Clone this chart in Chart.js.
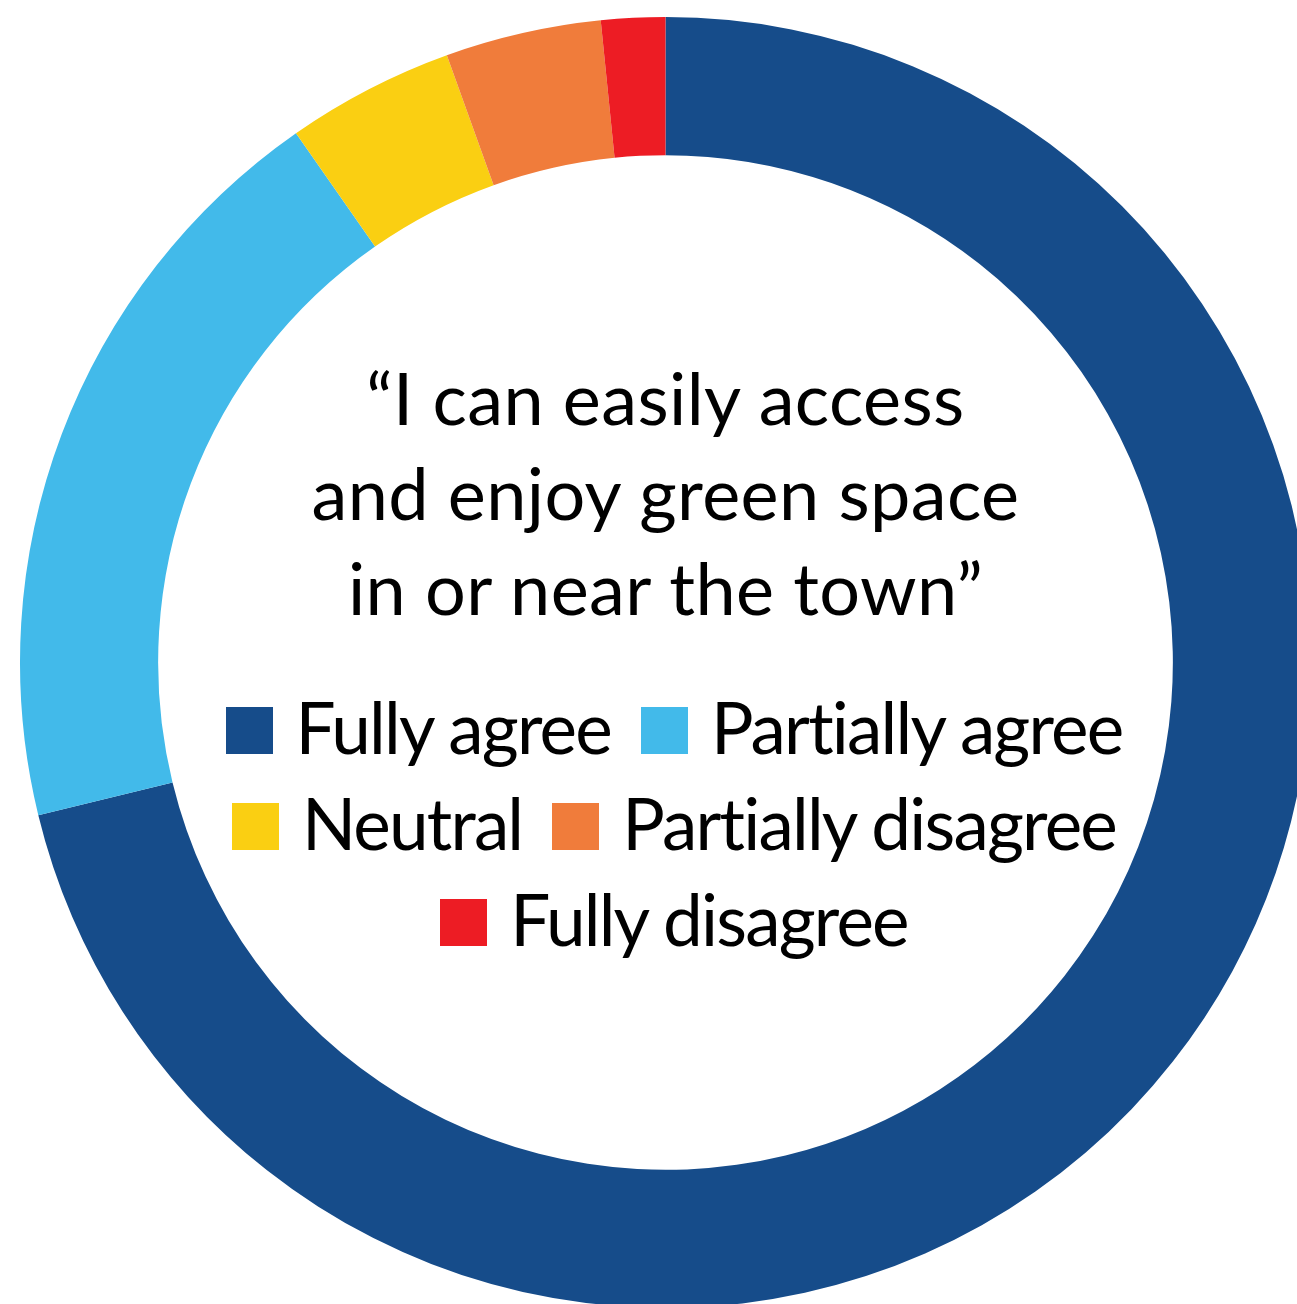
<!DOCTYPE html>
<html>
<head>
<meta charset="utf-8">
<script src="https://cdn.jsdelivr.net/npm/chart.js@4.4.0/dist/chart.umd.min.js"></script>
<style>
  html, body { margin: 0; padding: 0; background: #fff; overflow: hidden; width: 1297px; height: 1304px; }
  #wrap { position: absolute; left: 0; top: 0; width: 1330px; height: 1330px; }
  #title { position: absolute; left: 0; width: 1331px; top: 350px; text-align: center; font-family: Lato, sans-serif; font-size: 72px; line-height: 95px; letter-spacing: 0.4px; color: #000; white-space: nowrap; }
  #legend { position: absolute; left: 0; width: 1348px; top: 679px; text-align: center; font-family: Lato, sans-serif; font-size: 71px; line-height: 96px; color: #000; white-space: nowrap; }
  #legend .lbl { letter-spacing: -1.8px; }
  #legend .sq { display: inline-block; width: 47px; height: 47px; margin-right: 23px; vertical-align: baseline; }
  #legend .sq.next { margin-left: 30px; }
</style>
</head>
<body>
<div id="wrap"><canvas id="c" width="1330" height="1330"></canvas></div>
<div id="title"></div>
<div id="legend"></div>
<script>
const categories = ["Fully agree", "Partially agree", "Neutral", "Partially disagree", "Fully disagree"];
const values = [71.2, 19.1, 4.2, 3.9, 1.6];
const colors = ["#164C8A", "#42BAEA", "#FACF12", "#F07C3B", "#ED1C24"];
const titleLines = ["“I can easily access", "and enjoy green space", "in or near the town”"];

document.getElementById('title').innerHTML = titleLines.map(s => '<div>' + s + '</div>').join('');

const chart = new Chart(document.getElementById('c'), {
  type: 'doughnut',
  data: { labels: categories, datasets: [{ data: values, backgroundColor: colors, borderWidth: 0, hoverOffset: 0, offset: 0 }] },
  options: {
    responsive: false,
    animation: false,
    cutout: '78.6%',
    layout: { padding: { left: 20, top: 17, right: 19, bottom: 22 } },
    plugins: { legend: { display: false }, tooltip: { enabled: false } }
  }
});

// Legend built from the chart's own labels and colours, wrapped in rows of two
const legendRows = [[0, 1], [2, 3], [4]];
document.getElementById('legend').innerHTML = legendRows.map(row =>
  '<div>' + row.map((i, k) =>
    '<span class="sq' + (k > 0 ? ' next' : '') + '" style="background:' + chart.data.datasets[0].backgroundColor[i] + '"></span>' +
    '<span class="lbl">' + chart.data.labels[i] + '</span>'
  ).join('') + '</div>'
).join('');
</script>
</body>
</html>
